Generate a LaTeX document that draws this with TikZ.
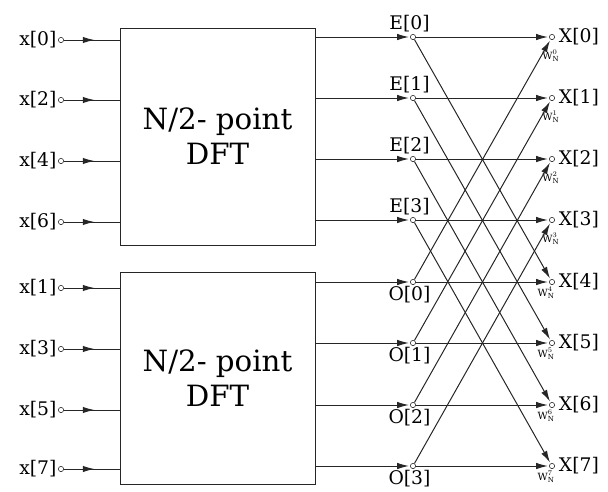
\documentclass[tikz,border=0pt]{standalone}
\usepackage{fontspec}
\setmainfont{DejaVu Serif}
\usetikzlibrary{positioning,arrows.meta,decorations.markings}

\tikzset{
  dot/.style={circle,draw,fill=white,inner sep=0pt,minimum size=4.5pt,line width=0.5pt},
  lbl/.style={inner sep=1pt,font=\fontsize{16}{18}\selectfont},
  wlbl/.style={inner sep=0pt,font=\fontsize{8.5}{10}\selectfont},
  dftbox/.style={draw,line width=0.8pt,minimum width=5.85cm,align=center,font=\fontsize{25}{30}\selectfont},
  tip/.style={-{Latex[length=10pt,width=5.5pt]},shorten >=1pt},
  midarrow/.style={decoration={markings,mark=at position 0.55 with {\arrow{Latex[length=10pt,width=5.5pt]}}},postaction={decorate}}
}

\begin{document}
\begin{tikzpicture}[x=0.03cm,y=-0.03cm,line width=0.85pt,draw=black!85]
\useasboundingbox (0,0) rectangle (608,491);

\node[dftbox,minimum height=6.51cm] (up) at (217.5,136.5) {N/2- point\\DFT};
\node[dftbox,minimum height=6.36cm] (dn) at (217.5,378) {N/2- point\\DFT};

% inputs
\foreach \n/\yy/\b in {0/40/up,2/100/up,4/161/up,6/222/up,1/288/dn,3/349/dn,5/410/dn,7/469/dn} {
  \node[dot] (in\n) at (61,\yy) {};
  \node[lbl,left=0pt of in\n] (xl\n) {x[\n]};
  \draw[midarrow] (in\n) -- (in\n -| \b.west);
}

% even and odd outputs
\foreach \k/\ye/\yo in {0/37/282,1/98/343,2/159/405,3/220/466} {
  \node[dot] (e\k) at (413,\ye) {};
  \node[lbl,above=0pt of e\k,xshift=-3pt] (el\k) {E[\k]};
  \draw[tip] (e\k -| up.east) -- (e\k);
  \node[dot] (o\k) at (413,\yo) {};
  \node[lbl,below=0pt of o\k,xshift=-3pt] (ol\k) {O[\k]};
  \draw[tip] (o\k -| dn.east) -- (o\k);
}

% outputs
\foreach \k/\yy in {0/37,1/98,2/159,3/220,4/282,5/343,6/405,7/466} {
  \node[dot] (X\k) at (552,\yy) {};
  \node[lbl,right=2pt of X\k] (Xl\k) {X[\k]};
}
\foreach \k in {0,...,3} {
  \node[wlbl,below=8pt of X\k,xshift=-1pt] (w\k) {$\mathrm{W}_{\mathrm{N}}^{\k}$};
}
\foreach \k in {4,...,7} {
  \node[wlbl,below=1pt of X\k,xshift=-5pt] (w\k) {$\mathrm{W}_{\mathrm{N}}^{\k}$};
}

% butterflies
\foreach \k in {0,...,3} {
  \pgfmathtruncatemacro{\m}{\k+4}
  \draw[tip] (e\k) -- (X\k);
  \draw[tip] (o\k) -- (X\k);
  \draw[tip] (e\k) -- (X\m);
  \draw[tip] (o\k) -- (X\m);
}
\end{tikzpicture}
\end{document}
